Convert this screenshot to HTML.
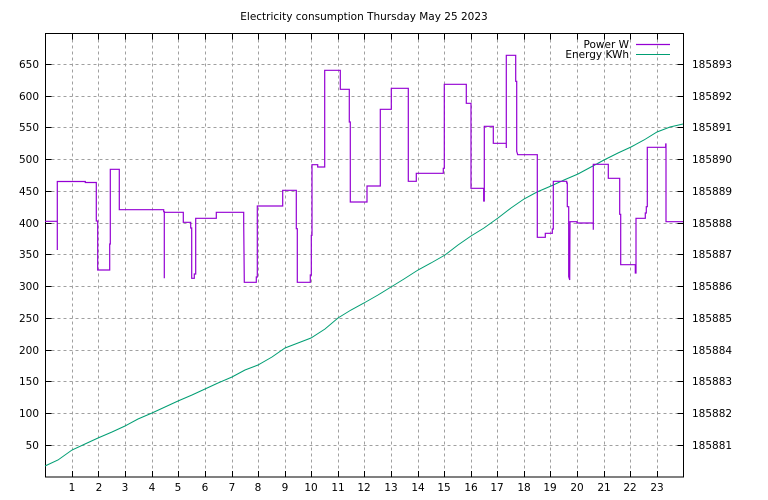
<!DOCTYPE html>
<html><head><style>body{margin:0;background:#fff}svg{display:block}text{font-family:"DejaVu Sans","Liberation Sans",sans-serif;font-size:10.5px;fill:#000}</style></head><body>
<svg width="768" height="500" viewBox="0 0 768 500" xmlns="http://www.w3.org/2000/svg">
<rect width="768" height="500" fill="#fff"/>
<g stroke="#a0a0a0" stroke-dasharray="3,3" stroke-width="1">
<path d="M45.5 445.5H683.5M45.5 413.5H683.5M45.5 381.5H683.5M45.5 350.5H683.5M45.5 318.5H683.5M45.5 286.5H683.5M45.5 254.5H683.5M45.5 223.5H683.5M45.5 191.5H683.5M45.5 159.5H683.5M45.5 127.5H683.5M45.5 96.5H683.5M45.5 64.5H683.5"/>
<path d="M72.5 33.5V477M98.5 33.5V477M125.5 33.5V477M152.5 33.5V477M178.5 33.5V477M205.5 33.5V477M232.5 33.5V477M258.5 33.5V477M285.5 33.5V477M311.5 33.5V477M338.5 33.5V477M364.5 33.5V477M391.5 33.5V477M418.5 33.5V477M444.5 33.5V477M471.5 33.5V477M497.5 33.5V477M524.5 33.5V477M550.5 33.5V477M577.5 33.5V477M604.5 33.5V477M630.5 33.5V477M657.5 33.5V477"/>
</g>
<g stroke="#000" stroke-width="1">
<path d="M45.5 445.5h6M45.5 413.5h6M45.5 381.5h6M45.5 350.5h6M45.5 318.5h6M45.5 286.5h6M45.5 254.5h6M45.5 223.5h6M45.5 191.5h6M45.5 159.5h6M45.5 127.5h6M45.5 96.5h6M45.5 64.5h6"/>
<path d="M683.5 445.5h-6M683.5 413.5h-6M683.5 381.5h-6M683.5 350.5h-6M683.5 318.5h-6M683.5 286.5h-6M683.5 254.5h-6M683.5 223.5h-6M683.5 191.5h-6M683.5 159.5h-6M683.5 127.5h-6M683.5 96.5h-6M683.5 64.5h-6"/>
<path d="M72.5 477v-6M98.5 477v-6M125.5 477v-6M152.5 477v-6M178.5 477v-6M205.5 477v-6M232.5 477v-6M258.5 477v-6M285.5 477v-6M311.5 477v-6M338.5 477v-6M364.5 477v-6M391.5 477v-6M418.5 477v-6M444.5 477v-6M471.5 477v-6M497.5 477v-6M524.5 477v-6M550.5 477v-6M577.5 477v-6M604.5 477v-6M630.5 477v-6M657.5 477v-6"/>
<path d="M72.5 33.5v6M98.5 33.5v6M125.5 33.5v6M152.5 33.5v6M178.5 33.5v6M205.5 33.5v6M232.5 33.5v6M258.5 33.5v6M285.5 33.5v6M311.5 33.5v6M338.5 33.5v6M364.5 33.5v6M391.5 33.5v6M418.5 33.5v6M444.5 33.5v6M471.5 33.5v6M497.5 33.5v6M524.5 33.5v6M550.5 33.5v6M577.5 33.5v6M604.5 33.5v6M630.5 33.5v6M657.5 33.5v6"/>
</g>
<rect x="45.5" y="33.5" width="638" height="443.5" fill="none" stroke="#000"/>
<g text-anchor="end">
<text x="39" y="449">50</text><text x="39" y="417">100</text><text x="39" y="385">150</text><text x="39" y="354">200</text><text x="39" y="322">250</text><text x="39" y="290">300</text><text x="39" y="258">350</text><text x="39" y="227">400</text><text x="39" y="195">450</text><text x="39" y="163">500</text><text x="39" y="131">550</text><text x="39" y="100">600</text><text x="39" y="68">650</text>
</g>
<g>
<text x="692" y="449">185881</text><text x="692" y="417">185882</text><text x="692" y="385">185883</text><text x="692" y="354">185884</text><text x="692" y="322">185885</text><text x="692" y="290">185886</text><text x="692" y="258">185887</text><text x="692" y="227">185888</text><text x="692" y="195">185889</text><text x="692" y="163">185890</text><text x="692" y="131">185891</text><text x="692" y="100">185892</text><text x="692" y="68">185893</text>
</g>
<g text-anchor="middle">
<text x="72" y="491">1</text><text x="99" y="491">2</text><text x="125" y="491">3</text><text x="152" y="491">4</text><text x="178" y="491">5</text><text x="205" y="491">6</text><text x="232" y="491">7</text><text x="258" y="491">8</text><text x="285" y="491">9</text><text x="311" y="491">10</text><text x="338" y="491">11</text><text x="364" y="491">12</text><text x="391" y="491">13</text><text x="418" y="491">14</text><text x="444" y="491">15</text><text x="471" y="491">16</text><text x="497" y="491">17</text><text x="524" y="491">18</text><text x="550" y="491">19</text><text x="577" y="491">20</text><text x="604" y="491">21</text><text x="630" y="491">22</text><text x="657" y="491">23</text>
<text x="364" y="20">Electricity consumption Thursday May 25 2023</text>
</g>
<polyline fill="none" stroke="#009e73" stroke-width="1" points="45,466 58,460 72,450 85,444 98,438 112,432 125,426 138,419 152,413 165,407 178,401 192,395 205,389 218,383 232,377 245,370 258,365 272,357 285,348 298,343 311,338 325,329 338,318 351,310 364,303 378,295 391,287 404,279 418,270 431,263 445,255 458,245 471,236 484,228 498,218 511,208 524,199 537,192 551,186 564,180 578,174 591,167 604,160 618,153 631,147 644,140 657,132 670,127 683,124"/>
<polyline fill="none" stroke="#9400d3" stroke-width="1.2" points="45,221.3 57.3,221.3 57.3,250 57.3,181.5 85.3,181.5 85.3,182.5 96.3,182.5 96.3,221 97.7,221 97.7,270 109.7,270 109.7,244 110.3,244 110.3,169.3 119.3,169.3 119.3,209.7 163.7,209.7 163.7,211.7 164.3,211.7 164.3,278.3 164.3,212.3 183.3,212.3 183.3,222.3 190.7,222.3 190.7,228 191.7,228 191.7,278.3 194.3,278.3 194.3,274 195.7,274 195.7,218.3 216.3,218.3 216.3,212.3 243.7,212.3 243.7,223 244.3,282.3 256.3,282.3 256.3,277 257.3,277 257.3,206 282.7,206 282.7,190.3 296.3,190.3 296.3,228.7 297.3,228.7 297.3,282.3 310.3,282.3 310.3,275 311.3,275 311.3,235.3 312,235.3 312,164.7 317.7,164.7 317.7,167 324.7,167 324.7,70.3 340.3,70.3 340.3,89.3 349.3,89.3 349.3,122 350.3,122 350.3,202 367,202 367,186 380.3,186 380.3,109.3 391.3,109.3 391.3,88.3 408.3,88.3 408.3,181.3 416.3,181.3 416.3,173.3 443.3,173.3 443.3,168.3 444.3,168.3 444.3,84.3 466.3,84.3 466.3,103.3 471,103.3 471,188.3 483.7,188.3 483.7,201 484.3,201 484.3,126.3 493.3,126.3 493.3,143.3 506.3,143.3 506.3,148 506.3,55.3 515.7,55.3 515.7,81.3 516.7,81.3 516.7,151.3 517.7,154.7 537.3,154.7 537.3,237.3 545.3,237.3 545.3,233.3 552.3,233.3 552.3,229 553.3,229 553.3,181.3 566.7,181.3 566.7,183 567.3,183 567.3,206.7 568.7,206.7 568.7,276.7 569.7,280 570,221.7 577,221.7 577,223 593.3,223 593.3,229.7 593.3,164.3 608.3,164.3 608.3,178.3 619.7,178.3 619.7,214.3 620.7,214.3 620.7,264.7 635.3,264.7 635.3,273 636,273 636,218.3 645.3,218.3 645.3,213 646.3,213 646.3,206.7 647.3,206.7 647.3,147.3 665.7,147.3 665.7,144 666,144 666,221.7 683,221.7"/>
<text x="629" y="48" text-anchor="end">Power W</text>
<text x="629" y="58" text-anchor="end">Energy KWh</text>
<line x1="636" y1="44.5" x2="670" y2="44.5" stroke="#9400d3" stroke-width="1.2"/>
<line x1="636" y1="54.5" x2="670" y2="54.5" stroke="#009e73"/>
</svg>
</body></html>
